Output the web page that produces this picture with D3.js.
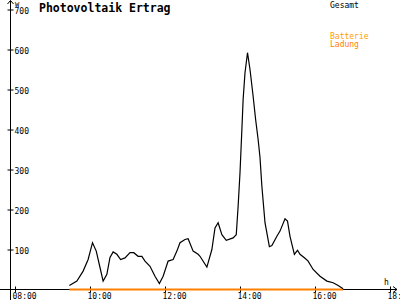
<!DOCTYPE html>
<html>
<head>
<meta charset="utf-8">
<script src="https://cdn.jsdelivr.net/npm/d3@7/dist/d3.min.js"></script>
<style>
html,body{margin:0;padding:0;background:#fff;}
svg{display:block;}
text{font-family:"DejaVu Sans Mono",monospace;}
</style>
</head>
<body>
<svg id="chart" width="400" height="300"></svg>
<script>
const title = "Photovoltaik Ertrag";
const seriesNames = ["Gesamt", "Batterie", "Ladung"];
const seriesColors = ["#000000", "#ffa000", "#ff8000"];
const times = ["09:27","09:39","09:49","09:57","10:04","10:10","10:16","10:21","10:27","10:32","10:37","10:43","10:49","10:56","11:04","11:10","11:17","11:23","11:28","11:36","11:44","11:51","11:57","12:05","12:13","12:19","12:24","12:32","12:37","12:45","12:53","12:56","13:07","13:15","13:20","13:25","13:31","13:38","13:49","13:54","13:57","14:00","14:03","14:05","14:08","14:12","14:16","14:21","14:25","14:29","14:32","14:35","14:40","14:47","14:51","14:59","15:04","15:12","15:16","15:20","15:27","15:32","15:36","15:44","15:49","15:57","16:08","16:19","16:29","16:37","16:45"];
const gesamt = [10,21,46,75,117,96,55,21,38,80,94,88,75,79,92,92,83,83,71,58,33,15,33,71,75,96,117,125,127,96,88,83,56,100,154,167,137,123,129,137,208,292,400,475,542,592,550,483,425,375,330,258,167,107,110,133,146,177,171,133,88,98,88,78,71,50,33,21,17,10,2];
const ladung = [0,0,0,0,0,0,0,0,0,0,0,0,0,0,0,0,0,0,0,0,0,0,0,0,0,0,0,0,0,0,0,0,0,0,0,0,0,0,0,0,0,0,0,0,0,0,0,0,0,0,0,0,0,0,0,0,0,0,0,0,0,0,0,0,0,0,0,0,0,0,0];
const xTickLabels = ["08:00","10:00","12:00","14:00","16:00","18:00"];
const yTickValues = [100,200,300,400,500,600,700];
const yUnit = "W";
const xUnit = "h";

const toMin = s => { const [h,m] = s.split(":").map(Number); return h*60+m; };

const svg = d3.select("#chart");
const x = d3.scaleLinear().domain([480, 1080]).range([15, 390]);
const y = d3.scaleLinear().domain([0, 700]).range([289.5, 9.5]);
const axisX = 10.5, axisY = 289.5;

// Y axis
const yAxis = d3.axisLeft(y).tickValues(yTickValues).tickSize(3).tickFormat(d3.format("d"));
const gy = svg.append("g").attr("transform", `translate(${axisX},0)`).call(yAxis);
gy.select(".domain").remove();
gy.selectAll(".tick line").attr("x1", -3).attr("x2", 3).attr("stroke", "#000");
gy.selectAll(".tick text").attr("x", 4).attr("text-anchor", "start").attr("dy", "0.45em")
  .attr("font-size", 8).attr("font-family", "DejaVu Sans Mono").attr("fill", "#000");

// X axis
const xAxis = d3.axisBottom(x).tickValues(xTickLabels.map(toMin)).tickSize(3)
  .tickFormat((d, i) => xTickLabels[i]);
const gx = svg.append("g").attr("transform", `translate(0,${axisY})`).call(xAxis);
gx.select(".domain").remove();
gx.selectAll(".tick line").attr("y1", -3).attr("y2", 3).attr("stroke", "#000");
gx.selectAll(".tick text").attr("x", -3).attr("y", 4).attr("dy", "0.71em").attr("text-anchor", "start")
  .attr("font-size", 8).attr("font-family", "DejaVu Sans Mono").attr("fill", "#000");

// axis lines with arrows
svg.append("line").attr("x1", axisX).attr("x2", axisX).attr("y1", 0.5).attr("y2", 300).attr("stroke", "#000");
svg.append("line").attr("x1", 0).attr("x2", 397).attr("y1", axisY).attr("y2", axisY).attr("stroke", "#000");
svg.append("path").attr("d", `M${axisX-3},4 L${axisX},0.5 L${axisX+3},4`).attr("fill", "none").attr("stroke", "#000");
svg.append("path").attr("d", `M393,${axisY-3} L397,${axisY} L393,${axisY+3}`).attr("fill", "none").attr("stroke", "#000");
svg.append("text").attr("x", 15).attr("y", 7).attr("font-size", 7).text(yUnit);
svg.append("text").attr("x", 384).attr("y", 285).attr("font-size", 8).text(xUnit);

// lines
const line = d3.line().x((d, i) => x(toMin(times[i]))).y(d => y(d));
svg.append("path").datum(ladung).attr("d", line).attr("fill", "none")
  .attr("stroke", seriesColors[2]).attr("stroke-width", 2);
svg.append("path").datum(gesamt).attr("d", line).attr("fill", "none")
  .attr("stroke", seriesColors[0]).attr("stroke-width", 1.2);

// title
svg.append("text").attr("x", 39).attr("y", 11.5).attr("font-size", 11.5).attr("font-weight", "bold").text(title);

// legend
svg.append("text").attr("x", 330).attr("y", 7.5).attr("font-size", 8).attr("fill", seriesColors[0]).text(seriesNames[0]);
svg.append("text").attr("x", 330).attr("y", 39).attr("font-size", 8).attr("fill", seriesColors[1]).text(seriesNames[1]);
svg.append("text").attr("x", 330).attr("y", 47).attr("font-size", 8).attr("fill", seriesColors[2]).text(seriesNames[2]);
</script>
</body>
</html>
